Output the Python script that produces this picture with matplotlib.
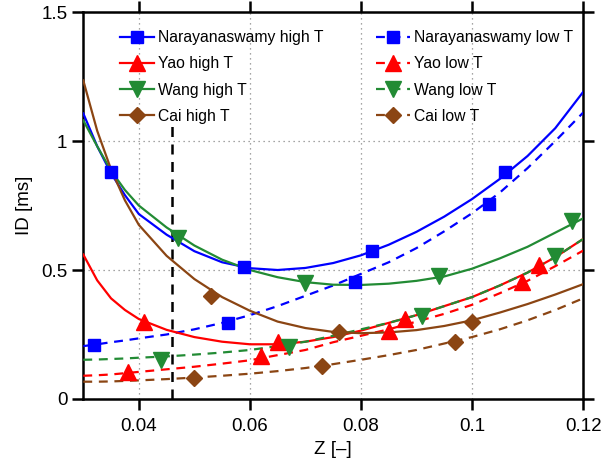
import matplotlib
matplotlib.use('Agg')
import matplotlib.pyplot as plt
import numpy as np

plt.rcParams['font.family'] = ['Liberation Sans', 'DejaVu Sans']

# fitted curves, sampled along Z (denser where they bend most)
z_fit = [0.03, 0.0325, 0.035, 0.0375, 0.04, 0.045, 0.05, 0.055, 0.06, 0.065, 0.07,
         0.075, 0.08, 0.085, 0.09, 0.095, 0.10, 0.105, 0.11, 0.115, 0.12]

nara_high_fit = [1.107, 0.98, 0.875, 0.79, 0.717, 0.637, 0.573, 0.53, 0.507, 0.50, 0.508,
                 0.527, 0.557, 0.598, 0.648, 0.707, 0.775, 0.853, 0.942, 1.05, 1.19]
nara_low_fit = [0.205, 0.212, 0.22, 0.227, 0.235, 0.25, 0.27, 0.295, 0.325, 0.36, 0.40,
                0.44, 0.485, 0.53, 0.585, 0.65, 0.72, 0.80, 0.895, 1.00, 1.11]
yao_high_fit = [0.56, 0.46, 0.39, 0.345, 0.31, 0.268, 0.24, 0.222, 0.212, 0.212, 0.222,
                0.24, 0.265, 0.295, 0.325, 0.36, 0.395, 0.44, 0.49, 0.55, 0.62]
yao_low_fit = [0.09, 0.092, 0.095, 0.10, 0.105, 0.115, 0.125, 0.137, 0.15, 0.17, 0.19,
               0.22, 0.245, 0.27, 0.30, 0.33, 0.365, 0.41, 0.458, 0.515, 0.575]
wang_high_fit = [1.08, 0.98, 0.885, 0.81, 0.75, 0.665, 0.595, 0.54, 0.50, 0.472, 0.453,
                 0.443, 0.442, 0.447, 0.458, 0.475, 0.505, 0.545, 0.59, 0.645, 0.70]
wang_low_fit = [0.152, 0.153, 0.155, 0.157, 0.16, 0.165, 0.172, 0.18, 0.19, 0.205, 0.222,
                0.245, 0.27, 0.295, 0.325, 0.36, 0.395, 0.44, 0.49, 0.55, 0.62]
cai_high_fit = [1.235, 1.04, 0.89, 0.77, 0.675, 0.555, 0.465, 0.395, 0.342, 0.30, 0.275,
                0.26, 0.255, 0.258, 0.267, 0.283, 0.305, 0.335, 0.368, 0.405, 0.445]
cai_low_fit = [0.067, 0.067, 0.068, 0.07, 0.072, 0.077, 0.083, 0.09, 0.098, 0.108, 0.12,
               0.135, 0.152, 0.17, 0.19, 0.215, 0.24, 0.27, 0.305, 0.345, 0.39]

# measured points
nara_high_z = [0.035, 0.059, 0.082, 0.106]
nara_high_id = [0.88, 0.51, 0.575, 0.88]
nara_low_z = [0.032, 0.056, 0.079, 0.103]
nara_low_id = [0.21, 0.295, 0.455, 0.755]
yao_high_z = [0.041, 0.065, 0.088, 0.112]
yao_high_id = [0.30, 0.22, 0.31, 0.52]
yao_low_z = [0.038, 0.062, 0.085, 0.109]
yao_low_id = [0.105, 0.165, 0.265, 0.455]
wang_high_z = [0.047, 0.070, 0.094, 0.118]
wang_high_id = [0.625, 0.45, 0.475, 0.69]
wang_low_z = [0.044, 0.067, 0.091, 0.115]
wang_low_id = [0.15, 0.20, 0.32, 0.555]
cai_high_z = [0.053, 0.076, 0.100]
cai_high_id = [0.40, 0.26, 0.30]
cai_low_z = [0.050, 0.073, 0.097]
cai_low_id = [0.083, 0.128, 0.222]

z_ref = 0.046
id_ref_top = 1.065

blue = '#0000ff'
red = '#ff0000'
green = '#228b34'
brown = '#8b4513'
dash = (0, (4, 3))

fig = plt.figure(figsize=(6.08, 4.65), dpi=100)
ax = fig.add_axes([0.137, 0.142, 0.822, 0.832])

series = [
    ('Narayanaswamy', blue, 's', 9, nara_high_fit, nara_high_z, nara_high_id,
     nara_low_fit, nara_low_z, nara_low_id),
    ('Yao', red, '^', 11, yao_high_fit, yao_high_z, yao_high_id,
     yao_low_fit, yao_low_z, yao_low_id),
    ('Wang', green, 'v', 11, wang_high_fit, wang_high_z, wang_high_id,
     wang_low_fit, wang_low_z, wang_low_id),
    ('Cai', brown, 'D', 8, cai_high_fit, cai_high_z, cai_high_id,
     cai_low_fit, cai_low_z, cai_low_id),
]

high_handles = []
low_handles = []
for name, c, m, ms, hf, hz, hi, lf, lz, li in series:
    ax.plot(z_fit, hf, color=c, lw=1.6, zorder=3)
    ax.plot(z_fit, lf, color=c, lw=1.6, ls=dash, zorder=3)
    ax.plot(hz, hi, ls='none', marker=m, ms=ms, color=c, zorder=4)
    ax.plot(lz, li, ls='none', marker=m, ms=ms, color=c, zorder=4)
    h, = ax.plot([], [], color=c, lw=1.6, marker=m, ms=ms)
    l, = ax.plot([], [], color=c, lw=1.6, ls=dash, marker=m, ms=ms)
    high_handles.append((h, name + ' high T'))
    low_handles.append((l, name + ' low T'))

ax.plot([z_ref, z_ref], [0, id_ref_top], color='k', lw=1.8, ls=dash, zorder=2)

ax.set_xlim(0.03, 0.12)
ax.set_ylim(0, 1.5)
ax.set_xticks([0.04, 0.06, 0.08, 0.1, 0.12])
ax.set_xticklabels(['0.04', '0.06', '0.08', '0.1', '0.12'])
ax.set_yticks([0, 0.5, 1, 1.5])
ax.set_yticklabels(['0', '0.5', '1', '1.5'])
ax.tick_params(direction='out', length=8, width=1.8, labelsize=13.5,
               top=True, right=True)
ax.tick_params(axis='x', pad=6)
for s in ax.spines.values():
    s.set_linewidth(1.8)
ax.grid(True, color='#888888', ls=(0, (1, 3)), lw=0.9, zorder=0)

ax.set_xlabel('Z [–]', fontsize=13.5, labelpad=4)
ax.set_ylabel('ID [ms]', fontsize=13.5, labelpad=6)

handles = [h for h, _ in high_handles] + [h for h, _ in low_handles]
labels = [t for _, t in high_handles] + [t for _, t in low_handles]
ax.legend(handles, labels, ncol=2, loc='upper left', bbox_to_anchor=(0.051, 0.982),
          frameon=False, fontsize=11.3, handlelength=2.2, handletextpad=0.25,
          columnspacing=3.3, labelspacing=0.72, borderaxespad=0.3)

fig.savefig('out.png', dpi=100)
